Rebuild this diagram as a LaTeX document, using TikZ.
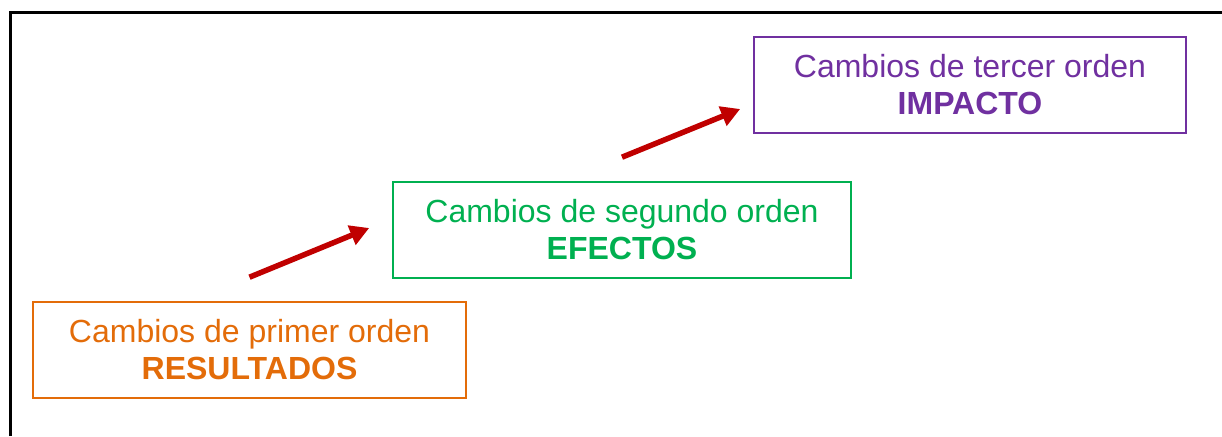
\documentclass[tikz,border=0pt]{standalone}
\usepackage{fontspec}
\setmainfont{Liberation Sans}
\usetikzlibrary{arrows.meta}
\definecolor{naranja}{HTML}{E36C09}
\definecolor{verde}{HTML}{00B050}
\definecolor{morado}{HTML}{7030A0}
\definecolor{rojo}{HTML}{C00000}
\tikzset{
	caja/.style={draw, line width=1.6pt, align=center, minimum height=96pt, inner sep=0pt,
		font=\fontsize{32}{37}\selectfont},
	flecha/.style={line width=5.5pt, rojo, -{Triangle[length=19pt,width=20pt]}}
}
\begin{document}
\begin{tikzpicture}[x=1pt,y=-1pt]
	\useasboundingbox (0,0) rectangle (1222,436);
	%marco
	\draw[line width=3pt] (10,436) -- (10,13) -- (1222,13);

	%primer orden
	\node[caja, naranja, minimum width=433pt](res) at (249.5,350)
	{Cambios de primer orden\\\textbf{RESULTADOS}};

	%segundo orden
	\node[caja, verde, minimum width=458pt](efe) at (622,230)
	{Cambios de segundo orden\\\textbf{EFECTOS}};

	%tercer orden
	\node[caja, morado, minimum width=432pt](imp) at (970,85)
	{Cambios de tercer orden\\\textbf{IMPACTO}};

	%flechas
	\draw[flecha] ([yshift=24pt]res.north) -- ([xshift=-23pt,yshift=2pt]efe.west);
	\draw[flecha] ([yshift=24pt]efe.north) -- ([xshift=-13pt,yshift=-24pt]imp.west);

\end{tikzpicture}
\end{document}
